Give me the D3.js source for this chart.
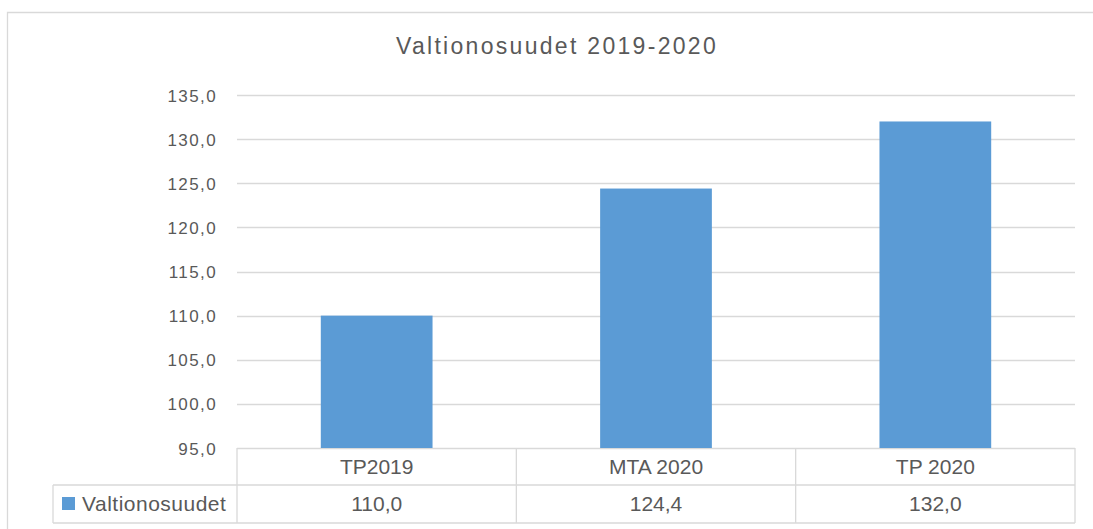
<!DOCTYPE html>
<html><head><meta charset="utf-8">
<script src="https://cdn.jsdelivr.net/npm/d3@7"></script>
<style>
html,body{margin:0;padding:0;background:#fff;}
svg{display:block;}
text{font-family:"Liberation Sans",Arial,sans-serif;fill:#595959;}
</style></head>
<body><svg id="c" width="1093" height="529"></svg>
<script>
const title = "Valtionosuudet 2019-2020";
const categories = ["TP2019", "MTA 2020", "TP 2020"];
const seriesName = "Valtionosuudet";
const values = [110.0, 124.4, 132.0];
const yTicks = [95, 100, 105, 110, 115, 120, 125, 130, 135];

const svg = d3.select("#c");
const W = 1093, H = 529;
const plot = {left: 237, right: 1075, top: 95, bottom: 448};
const grid = "#d9d9d9";
const fmt = v => v.toFixed(1).replace(".", ",");

// outer border (top and left only visible)
svg.append("path").attr("d", `M7.5,${H} L7.5,12.5 L${W},12.5`)
  .attr("fill","none").attr("stroke", grid).attr("stroke-width",1.3);

svg.append("text").attr("x", 557).attr("y", 54).attr("text-anchor","middle")
  .style("font-size","23px").style("letter-spacing","2.3px").text(title);

const x = d3.scaleBand().domain(categories).range([plot.left, plot.right]).paddingInner(0.6).paddingOuter(0.3);
const xc = d3.scaleBand().domain(categories).range([plot.left, plot.right]);
const y = d3.scaleLinear().domain([95, 135]).range([plot.bottom, plot.top]);

// gridlines
svg.append("g").selectAll("line").data(yTicks).join("line")
  .attr("x1", plot.left).attr("x2", plot.right)
  .attr("y1", d => Math.round(y(d))+0.5).attr("y2", d => Math.round(y(d))+0.5)
  .attr("stroke", grid).attr("stroke-width", 1.3);

// y labels
svg.append("g").selectAll("text").data(yTicks).join("text")
  .attr("x", 217).attr("y", d => y(d) + 6.5).attr("text-anchor","end")
  .style("font-size","17px").style("letter-spacing","1.4px").text(d => fmt(d));

// bars
svg.append("g").selectAll("rect").data(values).join("rect")
  .attr("x", (d,i) => x(categories[i])).attr("width", x.bandwidth())
  .attr("y", d => y(d)).attr("height", d => y(95) - y(d))
  .attr("fill", "#5b9bd5");

// data table
const rowTop = plot.bottom, rowMid = 485, rowBot = 523, legLeft = 53;
const tb = svg.append("g").attr("stroke", grid).attr("stroke-width", 1.3).attr("fill","none");
tb.append("line").attr("x1", legLeft).attr("x2", plot.right).attr("y1", rowMid).attr("y2", rowMid);
tb.append("line").attr("x1", legLeft).attr("x2", plot.right).attr("y1", rowBot).attr("y2", rowBot);
tb.append("line").attr("x1", legLeft).attr("x2", legLeft).attr("y1", rowMid).attr("y2", rowBot);
const vx = categories.map(c => xc(c)).concat([plot.right]);
tb.selectAll("line.v").data(vx).join("line").attr("class","v")
  .attr("x1", d => d).attr("x2", d => d).attr("y1", rowTop).attr("y2", rowBot);

svg.append("g").selectAll("text").data(categories).join("text")
  .attr("x", d => xc(d) + xc.bandwidth()/2).attr("y", 474).attr("text-anchor","middle")
  .style("font-size","21px").text(d => d);
svg.append("g").selectAll("text").data(values).join("text")
  .attr("x", (d,i) => xc(categories[i]) + xc.bandwidth()/2).attr("y", 511).attr("text-anchor","middle")
  .style("font-size","21px").text(d => fmt(d));

svg.append("rect").attr("x", 62).attr("y", 497).attr("width", 13).attr("height", 13).attr("fill","#5b9bd5");
svg.append("text").attr("x", 82).attr("y", 511).style("font-size","21px").style("letter-spacing","0.5px").text(seriesName);
</script></body></html>
